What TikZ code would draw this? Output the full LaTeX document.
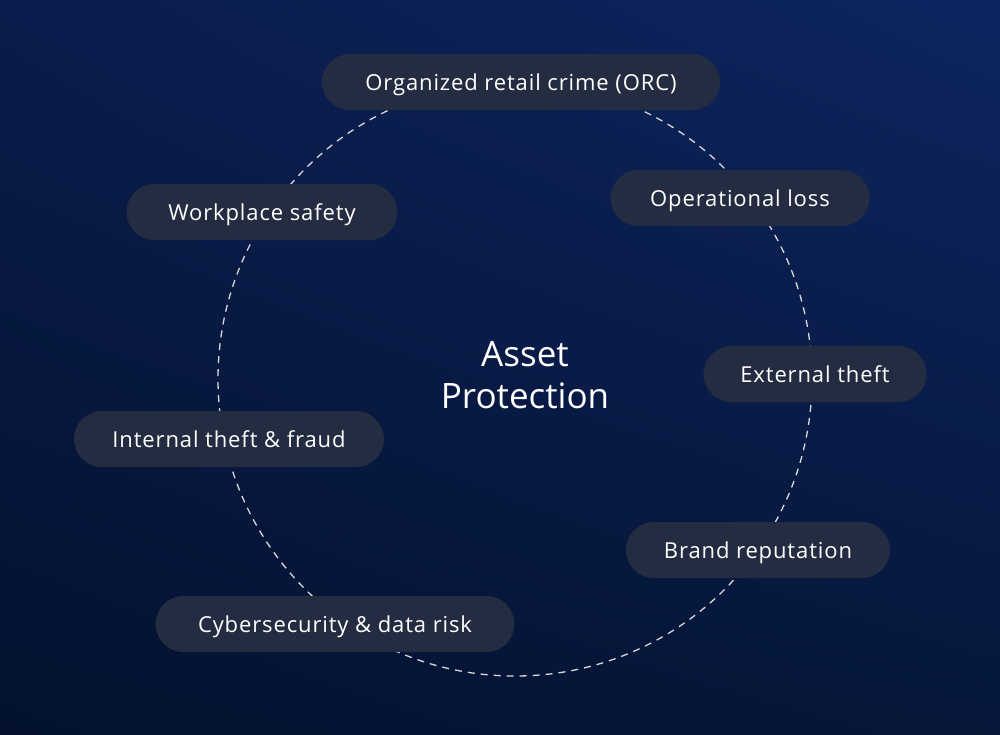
\documentclass[tikz,border=0pt]{standalone}
\usepackage{fontspec}
\setmainfont{Open Sans}
\newfontfamily\pillfont{Open Sans}[LetterSpace=4]
\usetikzlibrary{shadings}
\definecolor{bgul}{HTML}{0A1C4B}
\definecolor{bgur}{HTML}{0E2560}
\definecolor{bgll}{HTML}{041230}
\definecolor{bglr}{HTML}{06173A}
\definecolor{pillfill}{HTML}{232C40}
\tikzset{
  pill/.style={rounded corners=28, fill=pillfill, text=white, minimum height=56,
    inner sep=0pt, text height=16, text depth=0,
    font=\pillfont\fontsize{22}{26}\selectfont},
}
\begin{document}
\begin{tikzpicture}[x=1pt,y=-1pt]
\def\cx{515};
\def\cy{379};
\def\rad{297};
\coordinate (TL) at (0,0);
\coordinate (BR) at (1000,734);
\useasboundingbox (TL) rectangle (BR);
\shade[upper left=bgul, upper right=bgur, lower left=bgll, lower right=bglr] (TL) rectangle (BR);
\coordinate (mid) at (\cx,\cy);
\draw[white!85!black, line width=1.3pt, dash pattern=on 7pt off 6pt] (mid) circle (\rad);
% pills round the circle
\node[pill, minimum width=398] (orc) at (521,82) {Organized retail crime (ORC)};
\node[pill, minimum width=259] (oploss) at (740,198) {Operational loss};
\node[pill, minimum width=223] (extheft) at (815,374) {External theft};
\node[pill, minimum width=264] (brand) at (758,550) {Brand reputation};
\node[pill, minimum width=359] (cyber) at (335,624) {Cybersecurity \& data risk};
\node[pill, minimum width=310] (inttheft) at (229,439) {Internal theft \& fraud};
\node[pill, minimum width=271] (safety) at (262,212) {Workplace safety};
\node[text=white, align=center, font=\fontsize{35}{42}\selectfont] (asset) at (525,375) {Asset\\Protection};
\end{tikzpicture}
\end{document}
